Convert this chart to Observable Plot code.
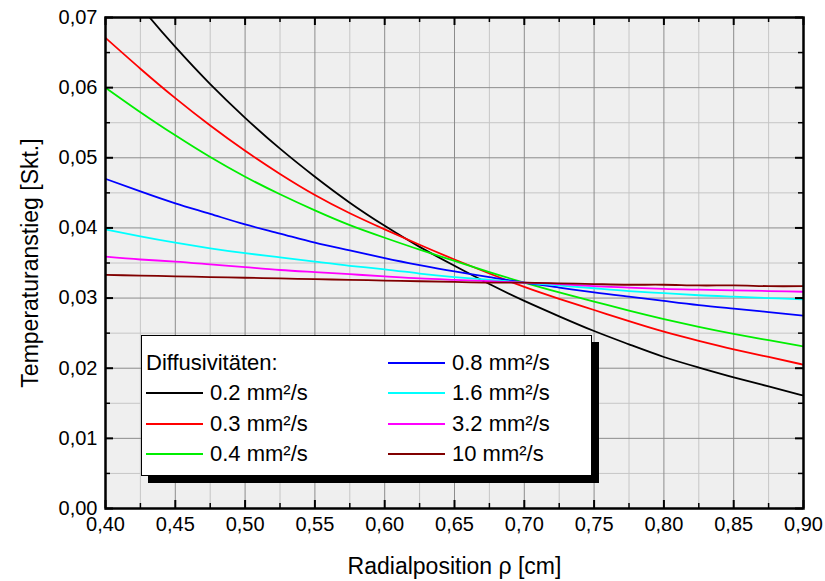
<!DOCTYPE html>
<html><head><meta charset="utf-8">
<script src="https://cdn.jsdelivr.net/npm/d3@7"></script>
<script src="https://cdn.jsdelivr.net/npm/@observablehq/plot@0.6"></script>
<style>
body{margin:0;background:#fff;font-family:"Liberation Sans",Arial,sans-serif;}
#wrap{position:relative;width:825px;height:581px;}
#legend{position:absolute;left:141px;top:335px;width:449px;height:139px;background:#fff;border:1px solid #000;box-shadow:7px 7px 0 #000;font-size:22px;color:#000;}
#legend .t{position:absolute;line-height:22px;white-space:nowrap;}
#legend .s{position:absolute;height:2px;width:57px;}
</style>
</head><body>
<div id="wrap"><div id="legend"></div></div>
<script>
const radius = [0.400,0.425,0.450,0.475,0.500,0.525,0.550,0.575,0.600,0.625,0.650,0.675,0.700,0.725,0.750,0.775,0.800,0.825,0.850,0.875,0.900];
const seriesNames = ["0.2 mm²/s","0.3 mm²/s","0.4 mm²/s","0.8 mm²/s","1.6 mm²/s","3.2 mm²/s","10 mm²/s"];
const seriesColors = ["#000000","#ff0000","#00ee00","#0000ff","#00ffff","#ff00ff","#800000"];
const d02 = [0.0780,0.0716,0.0658,0.0605,0.0557,0.0513,0.0473,0.0436,0.0403,0.0373,0.0346,0.0320,0.0296,0.0274,0.0253,0.0234,0.0216,0.0201,0.0187,0.0174,0.0161];
const d03 = [0.0671,0.0627,0.0585,0.0546,0.0510,0.0477,0.0447,0.0421,0.0398,0.0376,0.0355,0.0335,0.0316,0.0299,0.0283,0.0267,0.0252,0.0239,0.0227,0.0216,0.0205];
const d04 = [0.0600,0.0565,0.0532,0.0501,0.0473,0.0448,0.0425,0.0404,0.0386,0.0369,0.0353,0.0337,0.0322,0.0308,0.0295,0.0282,0.0270,0.0259,0.0249,0.0240,0.0231];
const d08 = [0.0470,0.0452,0.0435,0.0420,0.0405,0.0392,0.0379,0.0368,0.0357,0.0347,0.0338,0.0330,0.0322,0.0315,0.0308,0.0302,0.0296,0.0290,0.0285,0.0280,0.0275];
const d16 = [0.0398,0.0388,0.0379,0.0371,0.0364,0.0358,0.0352,0.0346,0.0341,0.0335,0.0330,0.0326,0.0322,0.0318,0.0314,0.0310,0.0307,0.0304,0.0302,0.0300,0.0298];
const d32 = [0.0359,0.0355,0.0352,0.0348,0.0344,0.0340,0.0337,0.0334,0.0331,0.0328,0.0326,0.0324,0.0322,0.0320,0.0317,0.0315,0.0313,0.0312,0.0311,0.0310,0.0309];
const d10 = [0.0333,0.0332,0.0331,0.0330,0.0329,0.0328,0.0327,0.0326,0.0325,0.0324,0.0323,0.0322,0.0322,0.0321,0.0320,0.0319,0.0319,0.0318,0.0318,0.0317,0.0317];
const seriesValues = [d02,d03,d04,d08,d16,d32,d10];
const xMajor = [0.40,0.45,0.50,0.55,0.60,0.65,0.70,0.75,0.80,0.85,0.90];
const xMinor = [0.425,0.475,0.525,0.575,0.625,0.675,0.725,0.775,0.825,0.875];
const yMajor = [0.00,0.01,0.02,0.03,0.04,0.05,0.06,0.07];
const yMinor = [0.005,0.015,0.025,0.035,0.045,0.055,0.065];
const xLabel = "Radialposition ρ [cm]";
const yLabel = "Temperaturanstieg [Skt.]";
const legendTitle = "Diffusivitäten:";

const data = [];
seriesNames.forEach((n,i)=>seriesValues[i].forEach((v,j)=>data.push({series:n, r:radius[j], v})));
const fmt = d => d.toFixed(2).replace(".", ",");
const PH = 491;

const chart = Plot.plot({
  width: 825, height: 581,
  marginLeft: 105, marginRight: 22, marginTop: 17, marginBottom: 73,
  style: {fontFamily: "'Liberation Sans', Arial, sans-serif", color: "#000", background: "transparent"},
  x: {domain: [0.4, 0.9], axis: null},
  y: {domain: [0, 0.07], axis: null},
  color: {domain: seriesNames, range: seriesColors},
  marks: [
    Plot.frame({fill: "#efefef"}),
    Plot.ruleX(xMinor, {stroke: "#c6c6c6", strokeWidth: 1}),
    Plot.ruleY(yMinor, {stroke: "#c6c6c6", strokeWidth: 1}),
    Plot.ruleX(xMajor, {stroke: "#8c8c8c", strokeWidth: 1}),
    Plot.ruleY(yMajor, {stroke: "#8c8c8c", strokeWidth: 1}),
    Plot.line(data, {x: "r", y: "v", z: "series", stroke: "series", strokeWidth: 1.8, curve: "natural", clip: true}),
    Plot.tickX(xMajor, {x: d => d, insetTop: PH - 8, stroke: "#000", strokeWidth: 2}),
    Plot.tickX(xMajor, {x: d => d, insetBottom: PH - 8, stroke: "#000", strokeWidth: 2}),
    Plot.tickX(xMinor, {x: d => d, insetTop: PH - 5, stroke: "#000", strokeWidth: 1.5}),
    Plot.tickX(xMinor, {x: d => d, insetBottom: PH - 5, stroke: "#000", strokeWidth: 1.5}),
    Plot.tickY(yMajor, {y: d => d, insetRight: 698 - 8, stroke: "#000", strokeWidth: 2}),
    Plot.tickY(yMajor, {y: d => d, insetLeft: 698 - 8, stroke: "#000", strokeWidth: 2}),
    Plot.tickY(yMinor, {y: d => d, insetRight: 698 - 5, stroke: "#000", strokeWidth: 1.5}),
    Plot.tickY(yMinor, {y: d => d, insetLeft: 698 - 5, stroke: "#000", strokeWidth: 1.5}),
    Plot.frame({stroke: "#000", strokeWidth: 2.5}),
    Plot.axisX(xMajor, {tickSize: 0, tickPadding: 8, tickFormat: fmt, fontSize: 20, label: null}),
    Plot.axisY(yMajor, {tickSize: 0, tickPadding: 8, tickFormat: fmt, fontSize: 20, label: null}),
    Plot.text([xLabel], {frameAnchor: "bottom", lineAnchor: "middle", textAnchor: "middle", dy: 58, fontSize: 23, fill: "#000"}),
    Plot.text([yLabel], {frameAnchor: "left", lineAnchor: "middle", textAnchor: "middle", rotate: -90, dx: -75, fontSize: 23, fill: "#000"})
  ]
});
document.getElementById("wrap").prepend(chart);

const lg = document.getElementById("legend");
function addText(txt, left, cy){const e=document.createElement("div");e.className="t";e.textContent=txt;e.style.left=left+"px";e.style.top=(cy-11)+"px";lg.appendChild(e);}
function addSwatch(col, left, cy){const e=document.createElement("div");e.className="s";e.style.background=col;e.style.left=left+"px";e.style.top=(cy-1)+"px";lg.appendChild(e);}
addText(legendTitle, 4, 27);
const rowsY = [57, 88, 118];
seriesNames.forEach((n,i)=>{
  if (i < 3) { addSwatch(seriesColors[i], 4, rowsY[i]); addText(n, 68, rowsY[i]); }
  else { const cy = [27,57,88,118][i-3]; addSwatch(seriesColors[i], 246, cy); addText(n, 310, cy); }
});
</script>
</body></html>
